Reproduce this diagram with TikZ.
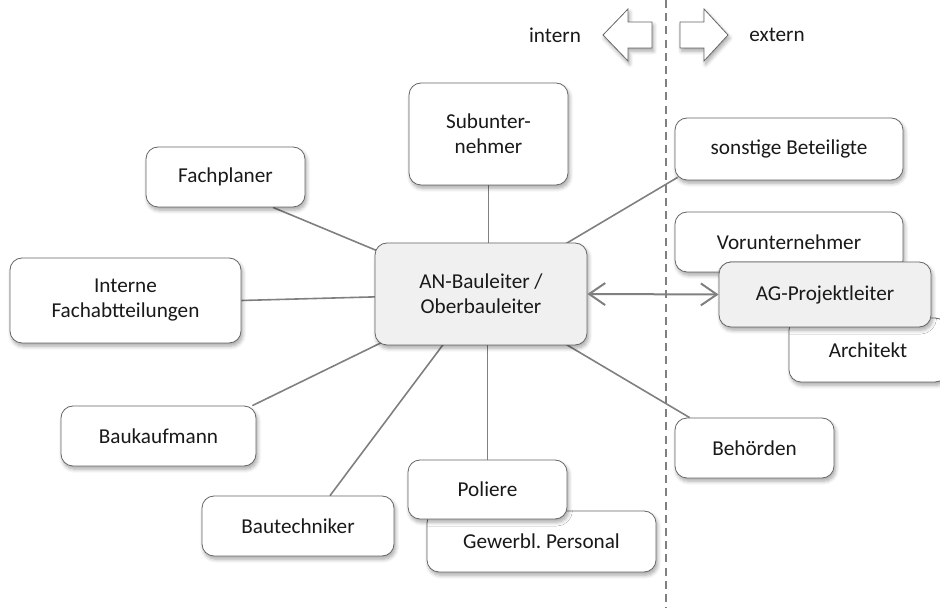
\documentclass[tikz,border=0pt]{standalone}
\usepackage{fontspec}
\setmainfont{Carlito}
\usetikzlibrary{backgrounds, calc, shadows.blur}
\usetikzlibrary{arrows.meta}
\tikzset{>={Straight Barb[length=8pt,width=11pt]}}

\begin{document}
\frenchspacing
\begin{tikzpicture}[
    x = 0.5pt, y = -0.5pt,
    box/.style = {draw=black!60, fill=white, thin, rounded corners=6pt,
        align=center, inner sep=0pt, text=black!90,
        font=\fontsize{10.6}{12.5}\selectfont,
        blur shadow={shadow xshift=0.8pt, shadow yshift=-1.6pt,
            shadow opacity=35, shadow blur steps=6}},
    hub/.style = {box, fill=black!6},
    link/.style = {draw=black!50, line width=0.8pt},
    side/.style = {draw=black!60, fill=white, thin,
        blur shadow={shadow xshift=0.8pt, shadow yshift=-1.6pt,
            shadow opacity=35, shadow blur steps=6}},
    lbl/.style = {font=\fontsize{10.6}{12.5}\selectfont, text=black!90}
  ]
  \useasboundingbox (0,0) rectangle (940,613);

  % intern / extern
  \draw[black!50, line width=0.8pt, dash pattern=on 4pt off 2.6pt] (666,0) -- (666,608);
  \draw[side] (603,35) -- (628,9) -- (628,22) -- (652,22) -- (652,48)
    -- (628,48) -- (628,61) -- cycle;
  \draw[side] (728,35) -- (704,9) -- (704,22) -- (680,22) -- (680,48)
    -- (704,48) -- (704,61) -- cycle;
  \node[lbl] (intern) at (555,35) {intern};
  \node[lbl] (extern) at (777,35) {extern};

  % boxes
  \node[hub, minimum width=106pt, minimum height=51pt] (an) at (481,294) {AN-Bauleiter /\\Oberbauleiter};
  \node[box, minimum width=79.5pt, minimum height=51pt] (sub) at (488.5,134) {Subunter-\\nehmer};
  \node[box, minimum width=79.5pt, minimum height=30pt] (fach) at (225.5,177) {Fachplaner};
  \node[box, minimum width=115.5pt, minimum height=42.5pt] (intfa) at (125.5,300.5) {Interne\\Fachabtteilungen};
  \node[box, minimum width=97.5pt, minimum height=30pt] (bkm) at (158.5,436) {Baukaufmann};
  \node[box, minimum width=96pt, minimum height=30pt] (btech) at (298,526) {Bautechniker};
  \node[box, minimum width=114.5pt, minimum height=30.5pt] (gewerbl) at (541.5,541.5) {Gewerbl.\ Personal};
  \node[box, minimum width=79.5pt, minimum height=29.5pt] (pol) at (487.5,489.5) {Poliere};
  \node[box, minimum width=114pt, minimum height=31pt] (sonst) at (789,149) {sonstige Beteiligte};
  \node[box, minimum width=114pt, minimum height=30pt] (vorunt) at (789,242) {Vorunternehmer};
  \node[box, minimum width=79pt, minimum height=32pt] (archi) at (868,350) {Architekt};
  \node[hub, minimum width=106pt, minimum height=32.5pt] (ag) at (825,294.5) {AG-Projektleiter};
  \node[box, minimum width=79.5pt, minimum height=30pt] (beh) at (754.5,448) {Behörden};

  % connections
  \begin{scope}[on background layer]
    \draw[link] (sub.south) -- (sub.south |- an.center);
    \draw[link] (an.center) -- ($(fach.south)+(47.5,0)$);
    \draw[link] (an.center) -- (intfa.east);
    \draw[link] (an.center) -- ($(bkm.north east)+(-4,0)$);
    \draw[link] (an.center) -- ($(btech.north)+(32,0)$);
    \draw[link] (pol.north) -- (pol.north |- an.center);
    \draw[link] (an.center) -- ($(beh.north west)+(15,0)$);
    \draw[link] (an.center) -- ($(sonst.south west)+(3,-3)$);
  \end{scope}
  \draw[black!50, line width=1pt, <->] (an.east) -- (ag.west);
\end{tikzpicture}
\end{document}
